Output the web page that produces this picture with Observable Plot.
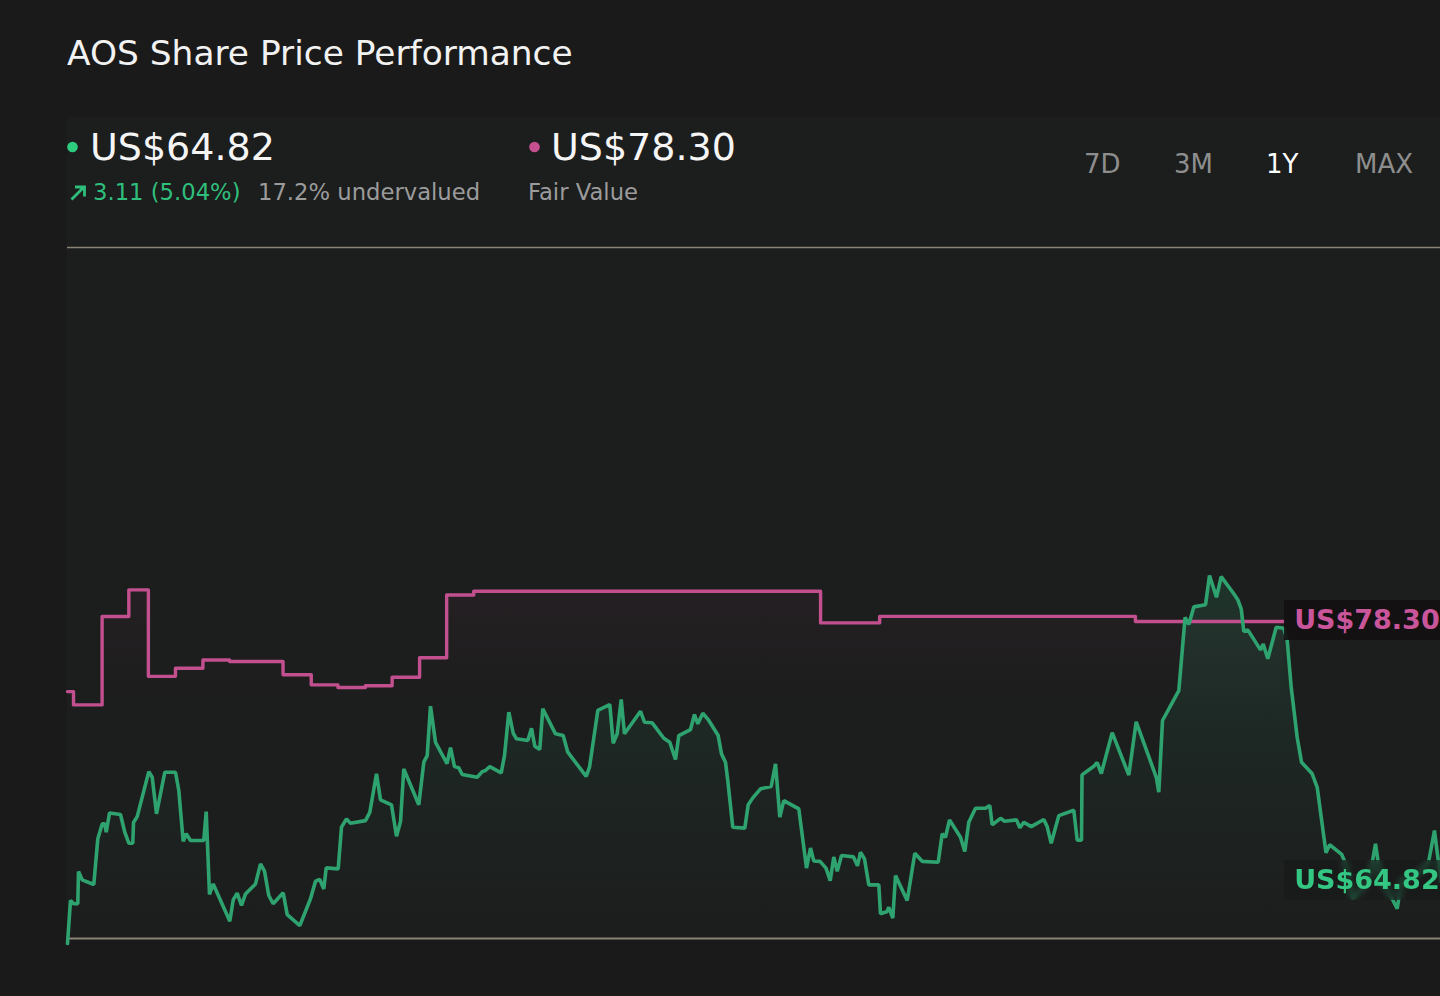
<!DOCTYPE html>
<html>
<head>
<meta charset="utf-8">
<script src="https://cdn.jsdelivr.net/npm/d3@7"></script>
<script src="https://cdn.jsdelivr.net/npm/@observablehq/plot@0.6"></script>
<style>
  html, body { margin: 0; padding: 0; background: #1a1a1a; }
  body { width: 1440px; height: 996px; overflow: hidden; position: relative; font-family: "DejaVu Sans", sans-serif; }
  #panel { position: absolute; left: 67px; top: 117px; right: 0; height: 823px; background: #1c1d1d; }
  #header { position: absolute; left: 0; top: 0; }
  #chart { position: absolute; left: 0; top: 240px; }
  .lbl { position: absolute; height: 40px; line-height: 40px; padding-left: 10px; width: 200px;
         font-weight: bold; font-size: 27px; white-space: nowrap; }
</style>
</head>
<body>
<div id="panel"></div>
<svg id="header" width="1440" height="240" font-family="DejaVu Sans, sans-serif">
  <text x="67" y="65" font-size="34.4" fill="#f2f2f2">AOS Share Price Performance</text>
  <circle cx="72.5" cy="147" r="5.3" fill="#2ecc7f"></circle>
  <text x="90" y="160" font-size="38" fill="#f5f5f5">US$64.82</text>
  <path d="M71.5 199.5 L84 187 M75 187 H84.5 V196.5" stroke="#2fbf7c" stroke-width="2.8" fill="none"></path>
  <text x="93" y="200" font-size="22.7" fill="#2fbf7c">3.11 (5.04%)</text>
  <text x="258" y="200" font-size="22.7" fill="#9b9b9b">17.2% undervalued</text>
  <circle cx="534.5" cy="147" r="5.3" fill="#c4508f"></circle>
  <text x="551" y="160" font-size="38" fill="#f5f5f5">US$78.30</text>
  <text x="528" y="200" font-size="22.7" fill="#9b9b9b">Fair Value</text>
  <text x="1084" y="172.5" font-size="26" fill="#8e8e8e">7D</text>
  <text x="1174" y="172.5" font-size="26" fill="#8e8e8e">3M</text>
  <text x="1266" y="172.5" font-size="26" fill="#ffffff">1Y</text>
  <text x="1355" y="172.5" font-size="26" fill="#8e8e8e">MAX</text>
</svg>
<div id="chart"></div>
<script>
// Fair value (step line): day offset within the 1-year window, value in US$
const fairDays = [0, 1.6, 9.2, 16.3, 21.5, 28.7, 36.0, 43.1, 57.3, 64.8, 71.9, 79.2, 86.3, 93.6, 100.8, 108.0, 200.2, 215.9, 283.9, 323.3];
const fairValues = [74.67, 73.98, 78.56, 79.94, 75.46, 75.88, 76.31, 76.23, 75.54, 75.02, 74.88, 74.97, 75.41, 76.42, 79.68, 79.87, 78.23, 78.57, 78.30, 78.30];

// Share price
const priceDays = [0, 0.80, 1.67, 2.74, 2.92, 3.91, 6.99, 8.06, 9.22, 9.92,
  10.29, 11.17, 14.09, 15.23, 16.30, 17.36, 17.55, 18.53, 21.61, 22.52,
  23.66, 25.87, 28.71, 29.59, 30.76, 31.56, 32.70, 36.23, 36.87, 37.75,
  38.73, 43.15, 44.05, 45.11, 46.26, 47.32, 49.98, 51.31, 52.37, 53.51,
  54.68, 57.34, 58.41, 61.76, 64.60, 65.93, 67.07, 68.14, 68.77, 71.96,
  72.84, 74.17, 75.23, 79.22, 80.36, 82.15, 83.21, 86.13, 87.46, 88.53,
  89.40, 93.39, 94.72, 95.62, 96.50, 97.83, 100.89, 101.82, 102.88, 104.02,
  104.93, 108.92, 110.24, 111.12, 112.26, 115.30, 116.17, 117.32, 118.49, 119.36,
  122.37, 123.35, 124.23, 125.56, 126.35, 129.73, 131.78, 133.00, 137.89, 138.77,
  140.98, 144.17, 145.07, 146.13, 147.20, 148.07, 152.33, 153.39, 155.44, 158.52,
  160.12, 161.63, 162.51, 165.62, 166.68, 167.56, 168.89, 170.32, 172.98, 173.86,
  174.92, 175.53, 176.86, 180.05, 180.96, 182.18, 184.23, 187.07, 188.22, 189.36,
  190.42, 194.41, 196.46, 197.52, 198.40, 200.05, 201.64, 202.76, 203.71, 204.62,
  205.76, 208.95, 210.01, 210.81, 211.87, 213.02, 215.68, 216.13, 217.91, 218.33,
  219.40, 220.12, 223.23, 225.25, 227.21, 231.47, 232.53, 233.41, 234.47, 237.40,
  238.54, 239.60, 241.38, 244.04, 245.18, 245.82, 248.03, 249.09, 252.28, 253.16,
  254.22, 256.19, 259.54, 260.44, 261.51, 263.53, 267.52, 268.42, 269.56, 269.70,
  272.83, 273.74, 274.83, 277.72, 282.14, 284.10, 288.70, 289.50, 290.11, 291.10,
  295.43, 297.10, 298.09, 299.42, 302.53, 303.59, 305.45, 306.70, 310.05, 311.11,
  312.02, 312.71, 313.77, 317.15, 317.87, 319.09, 321.32, 323.34, 324.25, 325.31,
  326.90, 328.05, 330.89, 332.22, 334.56, 335.54, 338.73, 339.61, 341.61, 344.26,
  346.39, 347.72, 349.05, 351.71, 353.49, 354.63, 358.35, 361.81, 363.40, 364.47, 365.00];
const priceValues = [61.61, 63.84, 63.67, 63.67, 65.34, 64.91, 64.67, 67.04, 67.81, 67.81,
  67.38, 68.38, 68.30, 67.38, 66.81, 66.81, 67.88, 68.19, 70.52, 70.23,
  68.33, 70.49, 70.49, 69.54, 66.90, 67.30, 66.95, 66.95, 68.45, 64.15,
  64.70, 62.76, 63.87, 64.22, 63.58, 64.18, 64.70, 65.74, 65.36, 64.10,
  63.67, 64.24, 63.11, 62.54, 63.93, 64.84, 64.93, 64.44, 65.53, 65.48,
  67.64, 68.07, 67.84, 67.98, 68.41, 70.41, 69.06, 68.80, 67.17, 67.93,
  70.66, 68.80, 71.01, 71.35, 73.91, 72.04, 70.94, 71.77, 70.78, 70.72,
  70.37, 70.23, 70.52, 70.58, 70.78, 70.46, 71.35, 73.60, 72.51, 72.22,
  72.13, 72.77, 71.84, 71.67, 73.78, 72.48, 72.39, 71.53, 70.27, 70.75,
  73.69, 74.00, 71.99, 72.48, 74.26, 72.48, 73.65, 73.08, 73.05, 72.25,
  72.04, 71.15, 72.39, 72.70, 73.48, 73.00, 73.55, 73.22, 72.39, 71.44,
  71.01, 70.06, 67.64, 67.59, 68.80, 69.16, 69.63, 69.75, 70.92, 68.16,
  69.02, 68.59, 65.52, 66.56, 65.89, 65.87, 65.52, 64.87, 66.10, 65.35,
  66.17, 66.10, 65.64, 66.34, 66.00, 64.65, 64.65, 63.15, 63.27, 63.49,
  62.92, 65.13, 63.84, 66.29, 65.87, 65.82, 67.30, 67.12, 68.02, 67.12,
  66.38, 67.90, 68.62, 68.62, 68.76, 67.76, 68.10, 67.95, 68.02, 67.61,
  67.90, 67.67, 68.04, 67.67, 66.81, 68.24, 68.52, 66.97, 66.97, 70.35,
  70.80, 70.99, 70.42, 72.54, 70.34, 73.10, 70.63, 70.18, 69.46, 73.17,
  74.72, 78.52, 78.15, 79.06, 79.17, 80.69, 79.56, 80.63, 79.74, 79.43,
  78.96, 77.78, 77.87, 76.83, 77.14, 76.37, 78.00, 77.95, 77.32, 74.89,
  72.30, 71.01, 70.41, 69.71, 66.32, 66.73, 66.23, 65.82, 63.94, 64.46,
  65.29, 66.78, 64.98, 64.10, 63.41, 64.87, 65.13, 65.81, 67.47, 65.81, 64.82];

const yDomain = [61.87, 97.69];
const lastPrice = 64.82;
const fairValue = 78.30;

const GREEN = "#2ea36f", PINK = "#c2508e", RULE = "#8a8476";

const fair = fairDays.map((d, i) => ({day: d, value: fairValues[i]}));
const price = priceDays.map((d, i) => ({day: d, value: priceValues[i]}));

const chart = Plot.plot({
  width: 1440,
  height: 720,
  marginLeft: 67,
  marginRight: 0,
  marginTop: 7,
  marginBottom: 22,
  x: {domain: [0, 365], axis: null},
  y: {domain: yDomain, axis: null},
  style: {background: "transparent", overflow: "visible"},
  marks: [
    Plot.areaY(fair, {x: "day", y1: yDomain[0], y2: "value", curve: "step-after", fill: "url(#pinkGrad)"}),
    Plot.areaY(price, {x: "day", y1: yDomain[0], y2: "value", fill: "url(#greenGrad)"}),
    Plot.ruleY([yDomain[1]], {stroke: RULE, strokeWidth: 1.5}),
    Plot.ruleY([yDomain[0]], {stroke: RULE, strokeWidth: 2}),
    Plot.line(fair, {x: "day", y: "value", curve: "step-after", stroke: PINK, strokeWidth: 3.4}),
    Plot.line(price, {x: "day", y: "value", stroke: GREEN, strokeWidth: 3.6, strokeLinejoin: "miter"})
  ]
});

const ns = "http://www.w3.org/2000/svg";
const defs = document.createElementNS(ns, "defs");
defs.innerHTML = `
  <linearGradient id="greenGrad" x1="0" y1="0" x2="0" y2="1">
    <stop offset="0" stop-color="${GREEN}" stop-opacity="0.17"></stop>
    <stop offset="0.6" stop-color="${GREEN}" stop-opacity="0.05"></stop>
    <stop offset="1" stop-color="${GREEN}" stop-opacity="0.0"></stop>
  </linearGradient>
  <linearGradient id="pinkGrad" x1="0" y1="0" x2="0" y2="1">
    <stop offset="0" stop-color="${PINK}" stop-opacity="0.05"></stop>
    <stop offset="0.35" stop-color="${PINK}" stop-opacity="0.0"></stop>
  </linearGradient>`;
chart.insertBefore(defs, chart.firstChild);
document.getElementById("chart").appendChild(chart);

// End labels, positioned through the chart's own scales
const xs = chart.scale("x"), ys = chart.scale("y");
const top0 = 240;
function addLabel(text, value, day, color, bg, blur) {
  const div = document.createElement("div");
  div.className = "lbl";
  div.textContent = text;
  div.style.left = (xs.apply(day) + 1) + "px";
  div.style.top = (top0 + ys.apply(value) - 21) + "px";
  div.style.color = color;
  div.style.background = bg;
  if (blur) { div.style.backdropFilter = "blur(3px)"; div.style.webkitBackdropFilter = "blur(3px)"; }
  document.body.appendChild(div);
}
addLabel("US$" + fairValue.toFixed(2), fairValue, fairDays[fairDays.length - 1], "#c9559a", "rgba(20,16,18,0.92)", false);
addLabel("US$" + lastPrice.toFixed(2), lastPrice, fairDays[fairDays.length - 1], "#34c683", "rgba(24,24,24,0.55)", true);
</script>
</body>
</html>
